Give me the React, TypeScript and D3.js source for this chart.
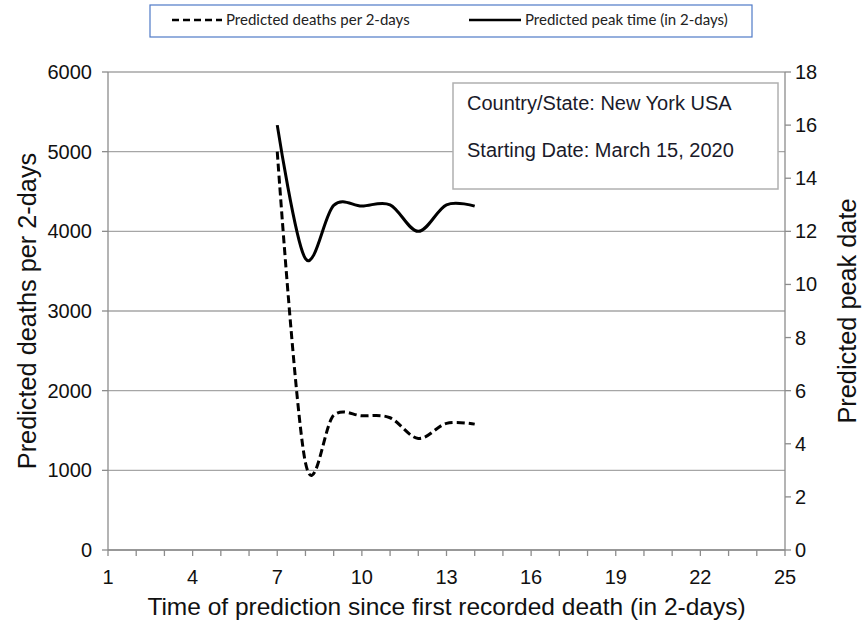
import React from "react";
import * as d3 from "d3";

const xValues = [7, 8, 9, 10, 11, 12, 13, 14];
const deaths = [5000, 1095, 1690, 1685, 1660, 1400, 1590, 1580];
const peakTime = [16.0, 10.97, 12.98, 12.95, 13.0, 12.0, 13.0, 12.95];
const leftTicks = [0, 1000, 2000, 3000, 4000, 5000, 6000];
const rightTicks = [0, 2, 4, 6, 8, 10, 12, 14, 16, 18];
const xMinorTicks = d3.range(1, 26);
const xLabelTicks = [1, 4, 7, 10, 13, 16, 19, 22, 25];
const seriesNames = ["Predicted deaths per 2-days", "Predicted peak time (in 2-days)"];
const infoLines = ["Country/State: New York USA", "Starting Date: March 15, 2020"];
const xTitle = "Time of prediction since first recorded death (in 2-days)";
const yLeftTitle = "Predicted deaths per 2-days";
const yRightTitle = "Predicted peak date";

const W = 862, H = 623;
const L = 108, R = 785, T = 72, B = 550;

export default function App() {
  const x = d3.scaleLinear().domain([1, 25]).range([L, R]);
  const yL = d3.scaleLinear().domain([0, 6000]).range([B, T]);
  const yR = d3.scaleLinear().domain([0, 18]).range([B, T]);
  const curve = d3.curveCatmullRom.alpha(0);
  const deathLine = d3.line<number>().x((_, i) => x(xValues[i])).y((d) => yL(d)).curve(curve);
  const peakLine = d3.line<number>().x((_, i) => x(xValues[i])).y((d) => yR(d)).curve(curve);
  const font = "'Liberation Sans', Arial, sans-serif";
  const legendFont = "Lato, 'Open Sans', sans-serif";
  const axisColor = "#8c8c8c";
  const gridColor = "#a6a6a6";
  return (
    <svg width={W} height={H} style={{ position: "fixed", left: 0, top: 0, background: "#fff" }} fontFamily={font}>
      <rect x={0} y={0} width={W} height={H} fill="#fff" />
      {/* legend */}
      <rect x={150} y={5} width={602} height={32} fill="#fff" stroke="#4f7ac7" strokeWidth={1.2} />
      <line x1={172} x2={222} y1={20} y2={20} stroke="#000" strokeWidth={2.5} strokeDasharray="7 4" />
      <text x={226} y={25} fontSize={15} fontFamily={legendFont} fill="#222">{seriesNames[0]}</text>
      <line x1={469} x2={521} y1={20} y2={20} stroke="#000" strokeWidth={2.5} />
      <text x={525} y={25} fontSize={15} fontFamily={legendFont} fill="#222">{seriesNames[1]}</text>
      {/* gridlines */}
      {leftTicks.map((t) => (
        <line key={"g" + t} x1={L} x2={R} y1={yL(t)} y2={yL(t)} stroke={gridColor} strokeWidth={1.3} />
      ))}
      {/* axes */}
      <line x1={L} x2={L} y1={T} y2={B} stroke={axisColor} strokeWidth={1.3} />
      <line x1={R} x2={R} y1={T} y2={B} stroke={axisColor} strokeWidth={1.3} />
      <line x1={L} x2={R} y1={B} y2={B} stroke={axisColor} strokeWidth={1.3} />
      {leftTicks.map((t) => (
        <g key={"l" + t}>
          <line x1={L - 6} x2={L} y1={yL(t)} y2={yL(t)} stroke={axisColor} strokeWidth={1.3} />
          <text x={92} y={yL(t)} dy="0.35em" textAnchor="end" fontSize={20} fill="#111">{t}</text>
        </g>
      ))}
      {rightTicks.map((t) => (
        <g key={"r" + t}>
          <line x1={R} x2={R + 6} y1={yR(t)} y2={yR(t)} stroke={axisColor} strokeWidth={1.3} />
          <text x={795} y={yR(t)} dy="0.35em" textAnchor="start" fontSize={20} fill="#111">{t}</text>
        </g>
      ))}
      {xMinorTicks.map((t) => (
        <line key={"x" + t} x1={x(t)} x2={x(t)} y1={B} y2={B + 6} stroke={axisColor} strokeWidth={1.3} />
      ))}
      {xLabelTicks.map((t) => (
        <text key={"xl" + t} x={x(t)} y={584} textAnchor="middle" fontSize={20} fill="#111">{t}</text>
      ))}
      {/* titles */}
      <text x={(L + R) / 2} y={615} textAnchor="middle" fontSize={24.5} fill="#111">{xTitle}</text>
      <text transform={`translate(36, ${(T + B) / 2}) rotate(-90)`} textAnchor="middle" fontSize={25.3} fill="#111">{yLeftTitle}</text>
      <text transform={`translate(856, ${(T + B) / 2}) rotate(-90)`} textAnchor="middle" fontSize={25.3} fill="#111">{yRightTitle}</text>
      {/* info box */}
      <rect x={453} y={83} width={325} height={106} fill="#fff" stroke="#b0b0b0" strokeWidth={1.5} />
      <text x={467} y={110} fontSize={20} fill="#1a1a2a">{infoLines[0]}</text>
      <text x={467} y={157} fontSize={20} fill="#1a1a2a">{infoLines[1]}</text>
      {/* series */}
      <path d={deathLine(deaths) || ""} fill="none" stroke="#000" strokeWidth={3} strokeDasharray="8 4" />
      <path d={peakLine(peakTime) || ""} fill="none" stroke="#000" strokeWidth={3} />
    </svg>
  );
}
